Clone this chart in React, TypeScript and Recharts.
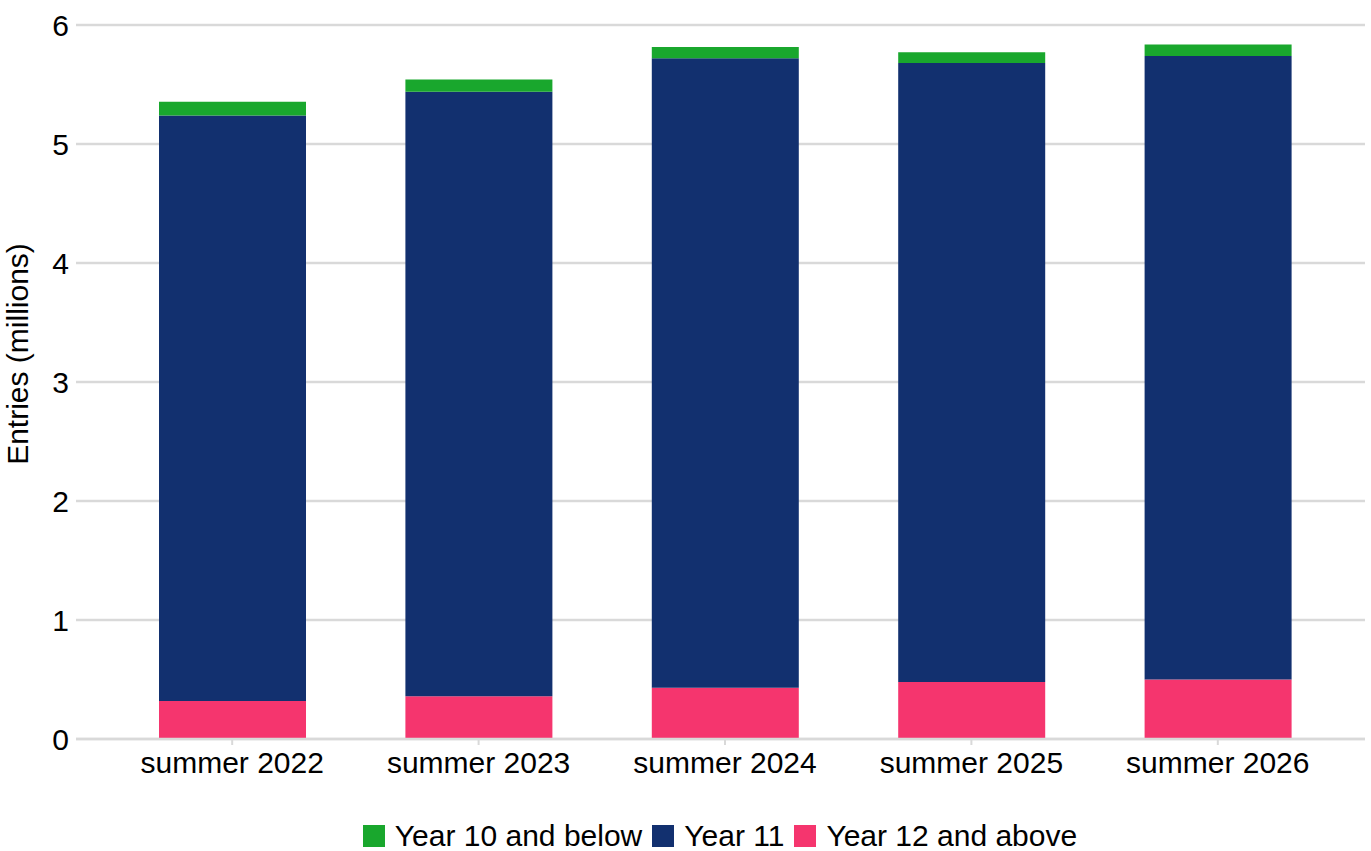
import React from 'react';
import { BarChart, Bar, XAxis, YAxis, CartesianGrid } from 'recharts';

const categories = ['summer 2022', 'summer 2023', 'summer 2024', 'summer 2025', 'summer 2026'];
const year10AndBelow = [0.115, 0.101, 0.096, 0.09, 0.096];
const year11 = [4.92, 5.08, 5.29, 5.2, 5.24];
const year12AndAbove = [0.32, 0.36, 0.43, 0.48, 0.5];
const yTicks = [0, 1, 2, 3, 4, 5, 6];

const seriesInfo = [
  { key: 'below10', name: 'Year 10 and below', color: '#19a72d' },
  { key: 'y11', name: 'Year 11', color: '#12306f' },
  { key: 'above12', name: 'Year 12 and above', color: '#f5356e' },
];

const data = categories.map((c, i) => ({
  category: c,
  below10: year10AndBelow[i],
  y11: year11[i],
  above12: year12AndAbove[i],
}));

const FONT = '"Liberation Sans", Arial, Helvetica, sans-serif';
const GRID = '#d9d9d9';

const YLabel = (props: any) => {
  const vb = props.viewBox || { x: 0, y: 25, width: 76, height: 714 };
  const cx = vb.x + 28;
  const cy = vb.y + vb.height / 2 - 28;
  return (
    <text
      x={cx}
      y={cy}
      transform={`rotate(-90, ${cx}, ${cy})`}
      textAnchor="middle"
      fontSize={30}
      fontFamily={FONT}
      fill="#000"
    >
      Entries (millions)
    </text>
  );
};

export default function App() {
  return (
    <div style={{ position: 'absolute', left: 0, top: 0, width: 1371, height: 851, background: '#fff', fontFamily: FONT, overflow: 'hidden' }}>
      <BarChart
        width={1371}
        height={851}
        data={data}
        margin={{ top: 25, right: 6, left: 0, bottom: 0 }}
        barSize={147}
      >
        <CartesianGrid vertical={false} stroke={GRID} strokeWidth={2.5} />
        <XAxis
          dataKey="category"
          height={112}
          padding={{ left: 33, right: 24 }}
          axisLine={{ stroke: GRID, strokeWidth: 2.5 }}
          tickLine={{ stroke: GRID, strokeWidth: 2 }}
          tickSize={6}
          tickMargin={7}
          tick={{ fontSize: 30, fill: '#000', fontFamily: FONT }}
          interval={0}
        />
        <YAxis
          width={76}
          domain={[0, 6]}
          ticks={yTicks}
          axisLine={false}
          tickLine={false}
          tickSize={0}
          tickMargin={7}
          tick={{ fontSize: 30, fill: '#000', fontFamily: FONT }}
          label={<YLabel />}
        />
        <Bar dataKey="above12" name="Year 12 and above" stackId="a" fill="#f5356e" isAnimationActive={false} />
        <Bar dataKey="y11" name="Year 11" stackId="a" fill="#12306f" isAnimationActive={false} />
        <Bar dataKey="below10" name="Year 10 and below" stackId="a" fill="#19a72d" isAnimationActive={false} />
      </BarChart>
      <div
        style={{
          position: 'absolute',
          left: 80,
          width: 1290,
          top: 824,
          display: 'flex',
          justifyContent: 'center',
          alignItems: 'center',
          fontSize: 30,
          lineHeight: '24px',
          color: '#000',
        }}
      >
        {seriesInfo.map((s) => (
          <div key={s.key} style={{ display: 'flex', alignItems: 'center', marginRight: 10 }}>
            <span style={{ display: 'inline-block', width: 22, height: 22, background: s.color, marginRight: 10 }} />
            <span style={{ whiteSpace: 'nowrap' }}>{s.name}</span>
          </div>
        ))}
      </div>
    </div>
  );
}
